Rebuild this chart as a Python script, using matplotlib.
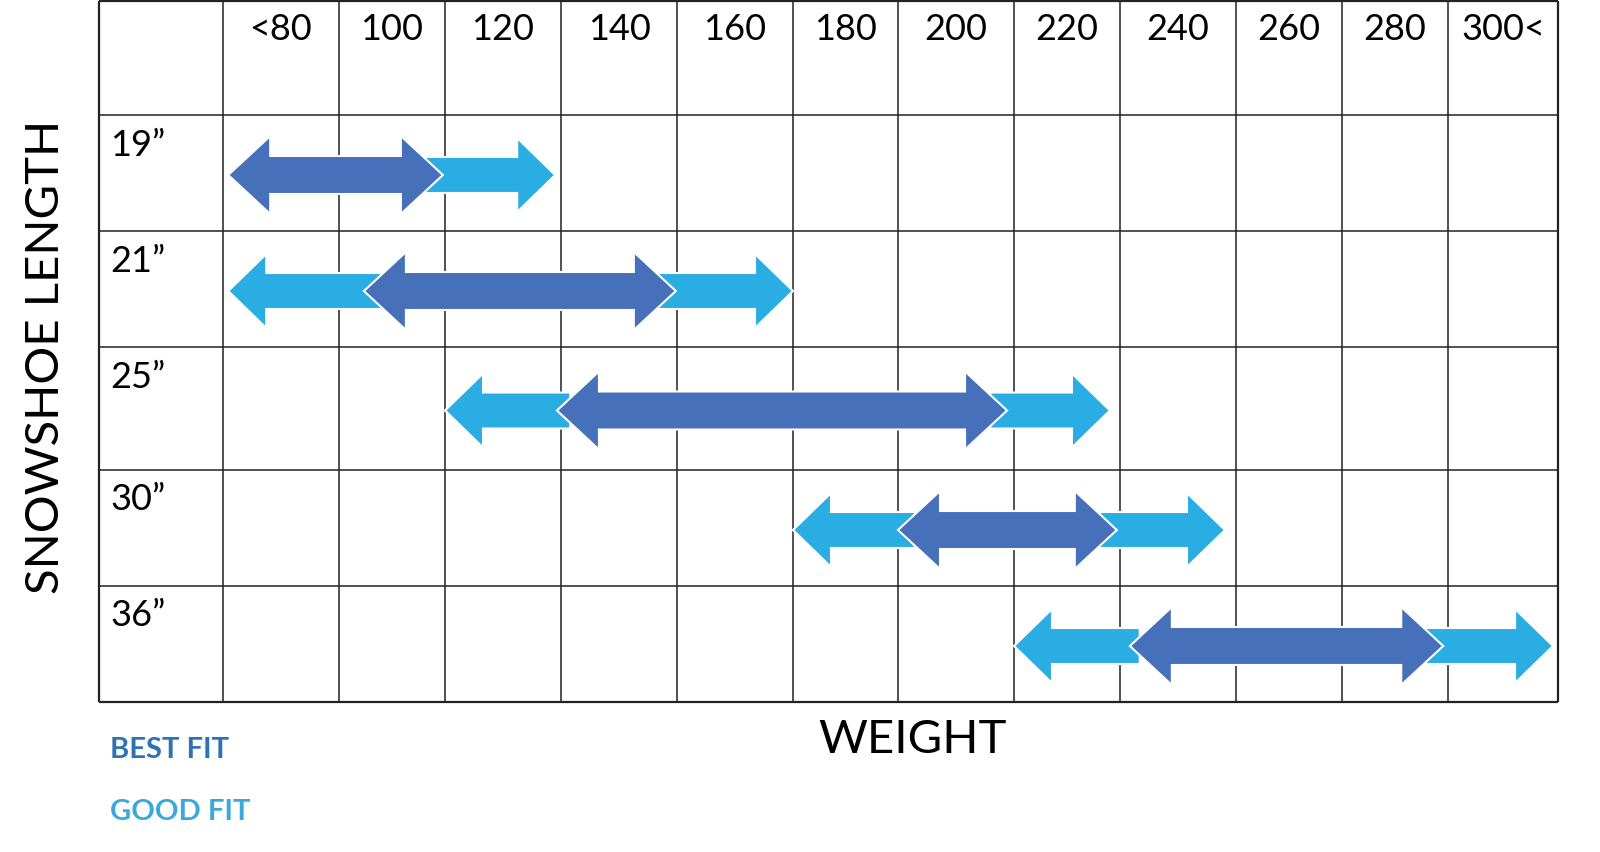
import numpy as np
import matplotlib.pyplot as plt
from matplotlib.patches import Polygon

plt.rcParams['font.family'] = ['Lato', 'DejaVu Sans']

# data
weight_labels = ['<80', '100', '120', '140', '160', '180', '200', '220', '240', '260', '280', '300<']
lengths = ['19\u201d', '21\u201d', '25\u201d', '30\u201d', '36\u201d']
best_fit = [(70.9, 109.6), (94.7, 149.8), (129.3, 208.8), (190.0, 229.4), (231.7, 289.1)]
good_low = [None, (70.9, 99.6), (110.0, 131.6), (170.0, 192.9), (210.0, 233.4)]
good_high = [(106.2, 129.0), (146.2, 170.0), (205.9, 228.1), (226.2, 248.1), (285.7, 309.1)]

# layout of the table (pixel positions of the cell edges)
col_edges = [99, 223, 339, 445, 561, 677, 793, 898, 1014, 1120, 1236, 1342, 1448, 1558]
row_edges = [1, 115, 231, 347, 470, 586, 702]
weight_edges = [50 + 20 * i for i in range(len(col_edges))]

dark = '#4670BA'
light = '#2AADE3'


def wx(w):
    return np.interp(w, weight_edges, col_edges)


def double_arrow(x0, x1, yc, H=78, s=38, h=42):
    return [(x0, yc), (x0 + h, yc - H / 2), (x0 + h, yc - s / 2), (x1 - h, yc - s / 2),
            (x1 - h, yc - H / 2), (x1, yc), (x1 - h, yc + H / 2), (x1 - h, yc + s / 2),
            (x0 + h, yc + s / 2), (x0 + h, yc + H / 2)]


def single_arrow(x0, x1, yc, H=74, s=36, h=38, left=False):
    if left:
        return [(x0, yc), (x0 + h, yc - H / 2), (x0 + h, yc - s / 2), (x1, yc - s / 2),
                (x1, yc + s / 2), (x0 + h, yc + s / 2), (x0 + h, yc + H / 2)]
    return [(x0, yc - s / 2), (x1 - h, yc - s / 2), (x1 - h, yc - H / 2), (x1, yc),
            (x1 - h, yc + H / 2), (x1 - h, yc + s / 2), (x0, yc + s / 2)]


fig = plt.figure(figsize=(16, 8.52), dpi=100)
ax = fig.add_axes([0, 0, 1, 1])
ax.set_xlim(0, 1600)
ax.set_ylim(852, 0)
ax.axis('off')

# grid
ax.vlines(col_edges[1:-1], row_edges[0], row_edges[-1], color='#222222', lw=1.1)
ax.hlines(row_edges[1:-1], col_edges[0], col_edges[-1], color='#222222', lw=1.1)
ax.vlines([col_edges[0], col_edges[-1]], row_edges[0], row_edges[-1], color='#222222', lw=1.6)
ax.hlines([row_edges[0], row_edges[-1]], col_edges[0], col_edges[-1], color='#222222', lw=1.6)

# header
for i, lab in enumerate(weight_labels):
    xc = (col_edges[i + 1] + col_edges[i + 2]) / 2
    ax.text(xc, 30, lab, ha='center', va='center', fontsize=26, color='black')

for j, lab in enumerate(lengths):
    ax.text(110, row_edges[j + 1] + 30, lab, ha='left', va='center', fontsize=26, color='black')

# arrows
for j in range(len(lengths)):
    yc = (row_edges[j + 1] + row_edges[j + 2]) / 2 + 2
    if good_low[j] is not None:
        a, b = good_low[j]
        ax.add_patch(Polygon(single_arrow(wx(a), wx(b), yc, left=True), closed=True,
                             fc=light, ec='white', lw=1.5, zorder=3))
    a, b = good_high[j]
    ax.add_patch(Polygon(single_arrow(wx(a), wx(b), yc), closed=True,
                         fc=light, ec='white', lw=1.5, zorder=3))
    a, b = best_fit[j]
    ax.add_patch(Polygon(double_arrow(wx(a), wx(b), yc), closed=True,
                         fc=dark, ec='white', lw=1.5, zorder=4))

# axis titles
ax.text(46, 357, 'SNOWSHOE LENGTH', rotation=90, ha='center', va='center', fontsize=34)
ax.text(912, 740, 'WEIGHT', ha='center', va='center', fontsize=34)

# legend text
ax.text(110, 750, 'BEST FIT', ha='left', va='center', fontsize=21, fontweight='bold', color='#2E72B4')
ax.text(110, 812, 'GOOD FIT', ha='left', va='center', fontsize=21, fontweight='bold', color='#3BA8DA')

fig.savefig('out.png', dpi=100)
